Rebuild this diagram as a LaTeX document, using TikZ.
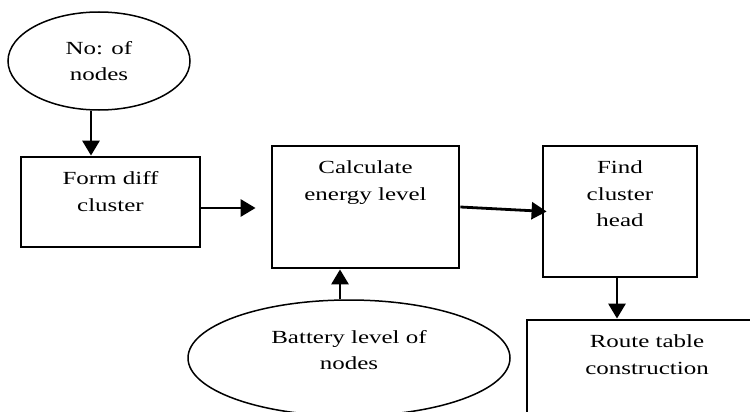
\documentclass[tikz,border=0pt]{standalone}
\usepackage{fontspec}
\setmainfont{Liberation Serif}[FakeStretch=1.35]
\usetikzlibrary{shapes.geometric, arrows.meta}
\tikzstyle{terminal} = [
    ellipse,
    inner sep=0pt,
    align=center,
    line width=1.5pt,
    draw=black
]
\tikzstyle{process} = [
    rectangle,
    inner sep=0pt,
    line width=2.8pt,
    draw=black
]
\tikzstyle{boxtext} = [
    anchor=north,
    align=center,
    inner sep=0pt,
    yshift=-16pt
]
\tikzstyle{arrow} = [line width=2.8pt,-{Triangle[length=15pt,width=17pt]}]

\begin{document}
\begin{tikzpicture}[x=1pt, y=-1pt, font=\fontsize{18.5}{26.5}\selectfont]
\useasboundingbox (0,0) rectangle (750,412);
\clip (0,0) rectangle (750,412);

\node (count) [terminal, minimum width=182pt, minimum height=98pt] at (99,61)
{No: of\\nodes};

\node (form) [process, minimum width=179pt, minimum height=90pt,
    label={[boxtext]north:{Form diff\\cluster}}] at (110.5,202) {};

\node (calc) [process, minimum width=187pt, minimum height=122pt,
    label={[boxtext]north:{Calculate\\energy level}}] at (365.5,207) {};

\node (battery) [terminal, minimum width=322pt, minimum height=116pt,
    label={[align=center, yshift=8pt]center:{Battery level of\\nodes}}] at (349,358) {};

\node (head) [process, minimum width=154pt, minimum height=131pt,
    label={[boxtext]north:{Find\\cluster\\head}}] at (620,211.5) {};

\node (route) [process, minimum width=240pt, minimum height=120pt,
    label={[boxtext]north:{Route table\\construction}}] at (647,380) {};

\draw [arrow] ([xshift=-8]count.south) -- ([xshift=-19.5]form.north);
\draw [arrow] ([yshift=-6]form.east) -- ([xshift=-15,yshift=-1]calc.west);
\draw [arrow] (calc.east) -- ([xshift=5]head.west);
\draw [arrow] ([xshift=-9]battery.north) -- ([xshift=-25.5]calc.south);
\draw [arrow] ([xshift=-3]head.south) -- ([xshift=-30]route.north);

\end{tikzpicture}
\end{document}
